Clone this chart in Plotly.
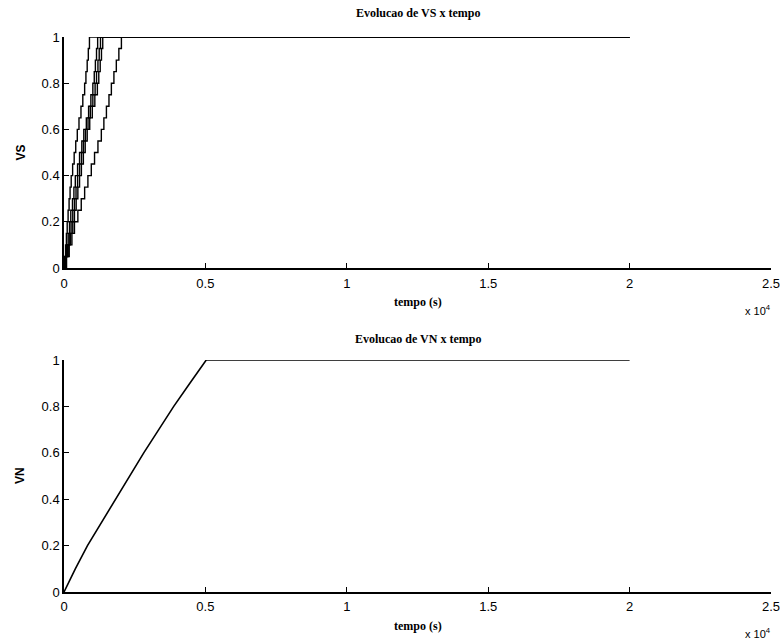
import plotly.graph_objects as go

# ---- data ----
vs_levels = [0, 0.05, 0.1, 0.15, 0.2, 0.25, 0.3, 0.35, 0.4, 0.45, 0.5, 0.55, 0.6, 0.65, 0.7,
             0.75, 0.8, 0.85, 0.9, 0.95, 1, 1]
vs_t1 = [0, 25, 55, 85, 113, 145, 180, 215, 255, 305, 360, 415, 470, 530, 600, 665, 730, 775, 820, 860, 900, 20000]
vs_t2 = [0, 45, 95, 145, 195, 240, 300, 350, 400, 480, 550, 630, 700, 790, 870, 950, 1020, 1070, 1110, 1150, 1190, 20000]
vs_t3 = [0, 60, 120, 185, 250, 310, 370, 425, 480, 550, 620, 690, 760, 850, 930, 1020, 1100, 1150, 1200, 1245, 1290, 20000]
vs_t4 = [0, 75, 150, 230, 310, 370, 430, 490, 550, 615, 685, 750, 820, 910, 1000, 1090, 1180, 1230, 1280, 1325, 1370, 20000]
vs_t5 = [0, 90, 185, 280, 370, 490, 610, 730, 845, 965, 1080, 1200, 1320, 1410, 1500, 1590, 1675, 1765, 1850, 1940, 2030, 20000]

vn_t = [0, 400, 830, 1320, 1835, 2330, 2820, 3350, 3880, 4450, 5030, 20000]
vn_v = [0, 0.1, 0.2, 0.3, 0.4, 0.5, 0.6, 0.7, 0.8, 0.9, 1, 1]

x_tickvals = [0, 5000, 10000, 15000, 20000, 25000]
x_ticktext = ["0", "0.5", "1", "1.5", "2", "2.5"]
y_tickvals = [0, 0.2, 0.4, 0.6, 0.8, 1]
y_ticktext = ["0", "0.2", "0.4", "0.6", "0.8", "1"]

titles = ["Evolucao de VS x tempo", "Evolucao de VN x tempo"]
ylabels = ["VS", "VN"]
xlabel = "tempo (s)"

# ---- figure ----
fig = go.Figure()
line = dict(color="black", width=1.4, shape="hv")
for t in [vs_t1, vs_t2, vs_t3, vs_t4, vs_t5]:
    fig.add_trace(go.Scatter(x=t, y=vs_levels, mode="lines", line=line, xaxis="x", yaxis="y", showlegend=False))
fig.add_trace(go.Scatter(x=vn_t, y=vn_v, mode="lines", line=dict(color="black", width=1.6),
                         xaxis="x2", yaxis="y2", showlegend=False))

W, H = 780, 642
x0, x1 = 64, 771
top_y = (37, 268)
bot_y = (360, 592)

def xd():
    return [x0 / W, x1 / W]

def yd(p):
    return [1 - p[1] / H, 1 - p[0] / H]

tickfont = dict(family="Liberation Sans, Arial, sans-serif", size=13, color="black")
axcommon = dict(showgrid=False, zeroline=False, showline=True, linecolor="black", linewidth=1.5,
                ticks="inside", ticklen=5, tickcolor="black", tickwidth=1, tickfont=tickfont,
                automargin=False, ticklabeloverflow="allow")

fig.update_layout(
    template="none",
    width=W, height=H, margin=dict(l=0, r=0, t=0, b=0, pad=0),
    paper_bgcolor="white", plot_bgcolor="white",
    xaxis=dict(domain=xd(), range=[0, 25000], tickvals=x_tickvals, ticktext=x_ticktext,
               anchor="y", ticklabelstandoff=3, **axcommon),
    yaxis=dict(domain=yd(top_y), range=[0, 1], tickvals=y_tickvals, ticktext=y_ticktext,
               anchor="x", **axcommon),
    xaxis2=dict(domain=xd(), range=[0, 25000], tickvals=x_tickvals, ticktext=x_ticktext,
                anchor="y2", ticklabelstandoff=2, **axcommon),
    yaxis2=dict(domain=yd(bot_y), range=[0, 1], tickvals=y_tickvals, ticktext=y_ticktext,
                anchor="x2", **axcommon),
)

serif = dict(family="Liberation Serif, Times New Roman, serif", size=12, color="black")
sans = dict(family="Liberation Sans, Arial, sans-serif", size=12, color="black")
small = dict(family="Liberation Sans, Arial, sans-serif", size=11, color="black")
title_y = [13, 339]
xlabel_y = [302, 626]
exp_y = [310, 633]
ann = []
cx = (x0 + x1) / 2 / W
for i, py in enumerate([top_y, bot_y]):
    ann.append(dict(x=cx, y=1 - title_y[i] / H, xref="paper", yref="paper", text="<b>" + titles[i] + "</b>",
                    showarrow=False, font=serif, xanchor="center", yanchor="middle"))
    ann.append(dict(x=cx, y=1 - xlabel_y[i] / H, xref="paper", yref="paper", text="<b>" + xlabel + "</b>",
                    showarrow=False, font=serif, xanchor="center", yanchor="middle"))
    ann.append(dict(x=20 / W, y=1 - (py[0] + py[1]) / 2 / H, xref="paper", yref="paper", text="<b>" + ylabels[i] + "</b>",
                    showarrow=False, font=sans, textangle=-90, xanchor="center", yanchor="middle"))
    ann.append(dict(x=758 / W, y=1 - exp_y[i] / H, xref="paper", yref="paper", text="x 10<sup>4</sup>",
                    showarrow=False, font=small, xanchor="center", yanchor="middle"))
fig.update_layout(annotations=ann)

fig.write_html("out.html")
